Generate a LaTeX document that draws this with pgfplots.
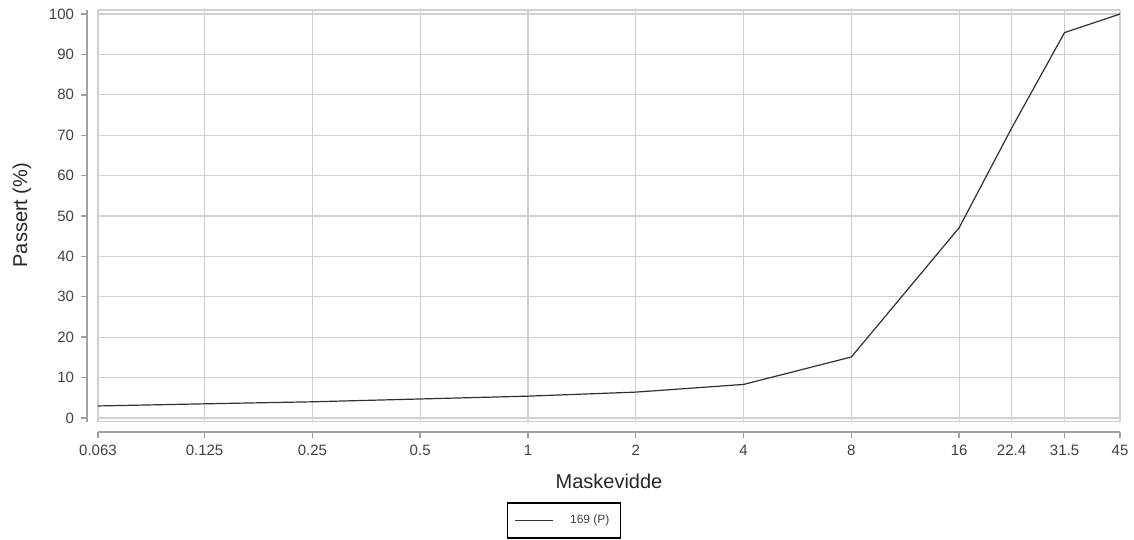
\documentclass[border=0pt]{standalone}
\usepackage{fontspec}
\setmainfont{Liberation Sans}
\usepackage{pgfplots}
\pgfplotsset{compat=1.18}
\definecolor{gridgray}{HTML}{D0D0D0}
\definecolor{axgray}{HTML}{A0A0A0}
\definecolor{txtgray}{HTML}{404040}
\definecolor{linegray}{HTML}{303030}
\begin{document}
\begin{tikzpicture}[x=1pt,y=1pt]
\useasboundingbox (0,0) rectangle (567,270);
\begin{axis}[
  at={(49pt,59pt)}, anchor=south west, scale only axis,
  width=511pt, height=206pt,
  xmode=log, log basis x=2,
  xmin=0.063, xmax=45, ymin=-1, ymax=101,
  xtick={0.063,0.125,0.25,0.5,1,2,4,8,16,22.4,31.5,45},
  xticklabels={0.063,0.125,0.25,0.5,1,2,4,8,16,22.4,31.5,45},
  ytick={0,10,20,30,40,50,60,70,80,90,100},
  /pgf/number format/assume math mode=true,
  axis lines=left,
  axis line style={-, axgray, line width=0.9pt},
  axis x line shift=5pt, axis y line shift=5.5pt,
  tick align=outside, major tick length=3pt,
  tick style={axgray, line width=0.7pt},
  grid=major, grid style={gridgray, line width=0.6pt},
  ticklabel style={font=\fontsize{7.5}{8}\selectfont, text=txtgray},
  xlabel={Maskevidde},
  ylabel={Passert (\%)},
  label style={font=\fontsize{10}{12}\selectfont, text=black!85},
  xlabel style={at={(axis description cs:0.5,-0.143)}, anchor=center},
  ylabel style={at={(axis description cs:-0.0744,0.502)}, anchor=center},
  legend style={at={(axis description cs:0.456,-0.239)}, anchor=center,
    draw=black, line width=0.9pt, font=\fontsize{6}{7}\selectfont,
    text=txtgray, inner xsep=3.5pt, inner ysep=4pt},
  legend image code/.code={\draw[linegray, line width=0.6pt] (0pt,0pt) -- (19pt,0pt);
    \path[draw=none] (0pt,0pt) -- (25.5pt,0pt);},
]
\draw[gridgray, line width=0.6pt] (rel axis cs:0,0) rectangle (rel axis cs:1,1);
\addplot[linegray, line width=0.6pt] coordinates {
  (0.063,2.97) (0.125,3.5) (0.25,4.0) (0.5,4.7) (1,5.4) (2,6.4)
  (4,8.3) (8,15.1) (16,47.1) (22.4,71.7) (31.5,95.4) (45,100)
};
\addlegendentry{169 (P)}
\end{axis}
\end{tikzpicture}
\end{document}
